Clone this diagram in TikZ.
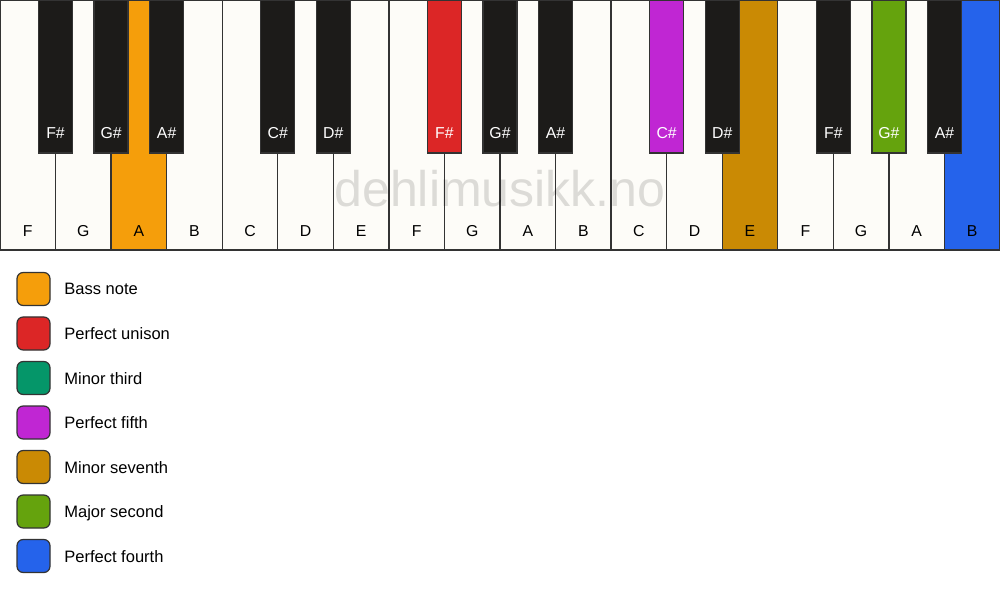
\documentclass[tikz,border=0pt]{standalone}
\usepackage{fontspec}
\setmainfont{Liberation Sans}
\definecolor{ivory}{HTML}{FDFCF8}
\definecolor{ebony}{HTML}{1C1B19}
\definecolor{keyedge}{HTML}{333333}
\definecolor{bassnote}{HTML}{F59E0B}
\definecolor{unison}{HTML}{DC2626}
\definecolor{minthird}{HTML}{059669}
\definecolor{fifth}{HTML}{C026D3}
\definecolor{minseventh}{HTML}{CA8A04}
\definecolor{majsecond}{HTML}{65A30D}
\definecolor{fourth}{HTML}{2563EB}
\begin{document}
\begin{tikzpicture}[x=0.02cm,y=-0.02cm,
    keyline/.style={draw=keyedge,line width=0.8pt},
    keytext/.style={font=\fontsize{9}{10}\selectfont,anchor=base},
    swatch/.style={draw=keyedge,line width=0.7pt,rounded corners=3.5pt},
    legendtext/.style={font=\fontsize{9.4}{11}\selectfont,anchor=base west,inner sep=0pt}]
  \useasboundingbox[fill=white] (0,0) rectangle (1000,594);
  % white keys
  \foreach \note/\col [count=\i from 0] in {F/ivory,G/ivory,A/bassnote,B/ivory,C/ivory,D/ivory,E/ivory,F/ivory,G/ivory,A/ivory,B/ivory,C/ivory,D/ivory,E/minseventh,F/ivory,G/ivory,A/ivory,B/fourth} {
    \path[keyline,fill=\col] (\i*55.556,0) rectangle ++(55.556,250);
    \node[keytext] (w\i) at (\i*55.556+27.78,237) {\note};
  }
  \node[font=\fontsize{28.5}{32}\selectfont,text=black,text opacity=0.13,anchor=base] (watermark) at (500,207) {dehlimusikk.no};
  % black keys
  \foreach \pos/\note/\col in {1/F\#/ebony,2/G\#/ebony,3/A\#/ebony,5/C\#/ebony,6/D\#/ebony,8/F\#/unison,9/G\#/ebony,10/A\#/ebony,12/C\#/fifth,13/D\#/ebony,15/F\#/ebony,16/G\#/majsecond,17/A\#/ebony} {
    \path[keyline,fill=\col] (\pos*55.556-17,0) rectangle ++(34,153);
    \node[keytext,text=white] (b\pos) at (\pos*55.556,139) {\note};
  }
  % legend
  \foreach \txt/\col [count=\k from 0] in {Bass note/bassnote,Perfect unison/unison,Minor third/minthird,Perfect fifth/fifth,Minor seventh/minseventh,Major second/majsecond,Perfect fourth/fourth} {
    \path[swatch,fill=\col] (17,272.5+44.5*\k) rectangle ++(33,33);
    \node[legendtext] (l\k) at (64,295+44.5*\k) {\txt};
  }
\end{tikzpicture}
\end{document}
